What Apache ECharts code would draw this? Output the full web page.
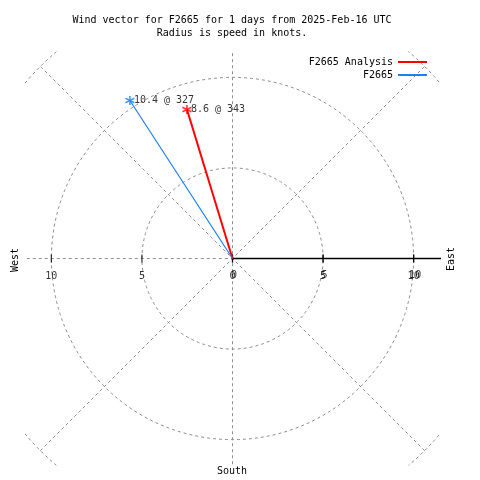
<!DOCTYPE html>
<html><head><meta charset="utf-8">
<script src="https://cdn.jsdelivr.net/npm/echarts@6/dist/echarts.min.js"></script>
<style>html,body{margin:0;padding:0;background:#fff}#c{width:480px;height:480px}</style>
</head><body><div id="c"></div>
<script>
// ---- data ----
const seriesNames = ['F2665 Analysis', 'F2665'];
const speeds = [8.6, 10.4];          // knots
const directions = [343, 327];       // degrees (from north, clockwise)
const seriesColors = ['#ff0000', '#1e7ff0'];
const ringRadii = [5, 10, 15];
const spokeAngles = [45, 135];
const tickValues = [-10, -5, 0, 5, 10];
const dupTickValues = [0, 5, 10];
const titleLines = ['Wind vector for F2665 for 1 days from 2025-Feb-16 UTC', 'Radius is speed in knots.'];
const sideLabels = { west: 'West', east: 'East', south: 'South' };

// ---- layout ----
const FONT = '"DejaVu Sans Mono", monospace';
const AX = 11.4;
const G = { left: 26, top: 52, width: 413, height: 413 };
const scale = G.width / (2 * AX);
const cx = G.left + G.width / 2, cy = G.top + G.height / 2;
const gridColor = '#8f8f8f';
const dash = { color: gridColor, width: 1, type: [3, 3] };

const series = [];
// rings
ringRadii.forEach(r => {
  const pts = [];
  for (let a = 0; a <= 360; a += 2) {
    const t = a * Math.PI / 180;
    pts.push([r * Math.cos(t), r * Math.sin(t)]);
  }
  series.push({ type: 'line', data: pts, symbol: 'none', clip: true, silent: true,
    lineStyle: dash, z: 1 });
});
// spokes
spokeAngles.forEach(a => {
  const t = a * Math.PI / 180, R = ringRadii[ringRadii.length - 1];
  series.push({ type: 'line', data: [[-R * Math.cos(t), -R * Math.sin(t)], [R * Math.cos(t), R * Math.sin(t)]],
    symbol: 'none', clip: true, silent: true, lineStyle: dash, z: 1 });
});
series.push({ type: 'line', data: [[0, -15], [0, 15]], symbol: 'none', clip: true, silent: true, lineStyle: dash, z: 1 });
series.push({ type: 'line', data: [[-15, 0], [0, 0]], symbol: 'none', clip: true, silent: true, lineStyle: dash, z: 1 });
// positive x axis (solid black)
series.push({ type: 'line', data: [[0, 0], [15, 0]], symbol: 'none', clip: true, silent: true,
  lineStyle: { color: '#000', width: 1.3 }, z: 3 });
// ticks + labels
series.push({ type: 'scatter', data: tickValues.map(v => [v, 0]), symbol: 'rect', symbolSize: [1.2, 8],
  itemStyle: { color: '#000' }, z: 4, silent: true,
  label: { show: true, position: 'bottom', distance: 9, color: '#000', fontFamily: FONT, fontSize: 10,
    formatter: p => String(Math.abs(p.value[0])) } });
series.push({ type: 'scatter', data: dupTickValues.map(v => [v, 0]), symbol: 'rect', symbolSize: [1.2, 8],
  itemStyle: { color: '#000' }, z: 4, silent: true,
  label: { show: true, position: 'bottom', distance: 9, offset: [1.5, -1.5], color: '#000', fontFamily: FONT, fontSize: 10,
    formatter: p => String(Math.abs(p.value[0])) } });

// vectors in polar coords
const star = 'path://M5,0L5,10M0.67,2.5L9.33,7.5M0.67,7.5L9.33,2.5';
seriesNames.forEach((name, i) => {
  series.push({ name, type: 'line', coordinateSystem: 'polar',
    data: [[0, directions[i]], [speeds[i], directions[i]]], symbol: 'none',
    itemStyle: { color: seriesColors[i] },
    lineStyle: { color: seriesColors[i], width: i === 0 ? 2 : 1.2 }, z: 5 });
  series.push({ type: 'scatter', coordinateSystem: 'polar',
    data: [[speeds[i], directions[i]]], symbol: star, symbolSize: 9,
    itemStyle: { color: 'none', borderColor: seriesColors[i], borderWidth: 1.6 }, z: 6,
    label: { show: true, position: 'right', distance: -3, color: '#000', fontFamily: FONT, fontSize: 10,
      formatter: () => speeds[i] + ' @ ' + directions[i] } });
});

const chart = echarts.init(document.getElementById('c'), null, { renderer: 'canvas' });
chart.setOption({
  animation: false,
  backgroundColor: '#fff',
  grid: { left: G.left, top: G.top, width: G.width, height: G.height, containLabel: false },
  xAxis: { type: 'value', min: -AX, max: AX, show: false },
  yAxis: { type: 'value', min: -AX, max: AX, show: false },
  polar: { center: [cx, cy], radius: 15 * scale },
  angleAxis: { type: 'value', min: 0, max: 360, startAngle: 90, clockwise: true, show: false },
  radiusAxis: { type: 'value', min: 0, max: 15, show: false },
  legend: {
    data: seriesNames.map(n => ({ name: n, icon: 'rect' })),
    orient: 'vertical', align: 'right', right: 53, top: 57, padding: 0,
    itemWidth: 29, itemHeight: 2, itemGap: 3,
    textStyle: { fontFamily: FONT, fontSize: 10, color: '#000' }
  },
  graphic: [
    { type: 'text', x: 232, y: 20, style: { text: titleLines[0], font: '10px ' + FONT, fill: '#000', align: 'center', verticalAlign: 'middle', textAlign: 'center', textVerticalAlign: 'middle' } },
    { type: 'text', x: 232, y: 33, style: { text: titleLines[1], font: '10px ' + FONT, fill: '#000', align: 'center', verticalAlign: 'middle', textAlign: 'center', textVerticalAlign: 'middle' } },
    { type: 'text', x: 15, y: 260, rotation: Math.PI / 2, style: { text: sideLabels.west, font: '10px ' + FONT, fill: '#000', align: 'center', verticalAlign: 'middle', textAlign: 'center', textVerticalAlign: 'middle' } },
    { type: 'text', x: 451, y: 259, rotation: Math.PI / 2, style: { text: sideLabels.east, font: '10px ' + FONT, fill: '#000', align: 'center', verticalAlign: 'middle', textAlign: 'center', textVerticalAlign: 'middle' } },
    { type: 'text', x: 232, y: 471, style: { text: sideLabels.south, font: '10px ' + FONT, fill: '#000', align: 'center', verticalAlign: 'middle', textAlign: 'center', textVerticalAlign: 'middle' } }
  ],
  series
});
</script></body></html>
